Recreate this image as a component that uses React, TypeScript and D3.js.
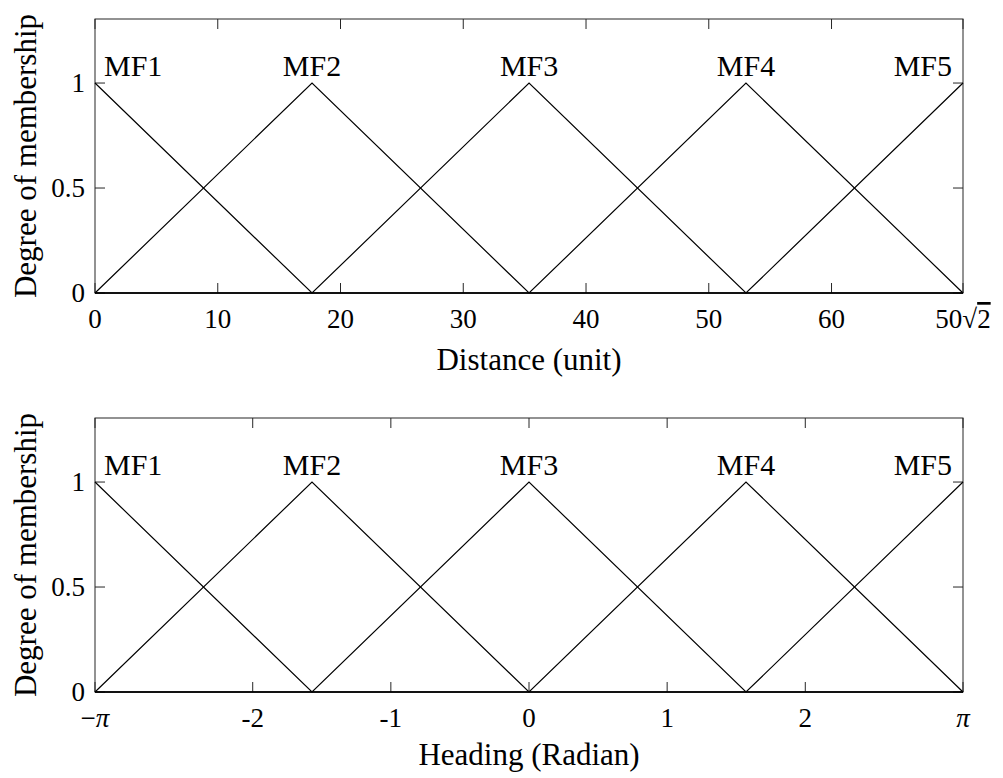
import React from "react";
import * as d3 from "d3";

// membership function names and break points (peaks)
const mfNames = ["MF1", "MF2", "MF3", "MF4", "MF5"];
const distanceBreaks = [0, 17.68, 35.36, 53.03, 70.71];
const headingBreaks = [-3.1416, -1.5708, 0, 1.5708, 3.1416];

// degree of membership at each break point, one row per MF
const mfValues = [
  [1, 0, 0, 0, 0],
  [0, 1, 0, 0, 0],
  [0, 0, 1, 0, 0],
  [0, 0, 0, 1, 0],
  [0, 0, 0, 0, 1],
];

// axis ticks
const yTicks = [0, 0.5, 1];
const yTickLabels = ["0", "0.5", "1"];
const distanceTicks = [0, 10, 20, 30, 40, 50, 60, 70.71];
const distanceTickLabels = ["0", "10", "20", "30", "40", "50", "60", "SQRT"];
const headingTicks = [-3.1416, -2, -1, 0, 1, 2, 3.1416];
const headingTickLabels = ["-PI", "-2", "-1", "0", "1", "2", "PI"];

const W = 1003;
const H = 778;
const FONT = "'Liberation Serif', 'Times New Roman', serif";

type PanelProps = {
  top: number;
  domain: [number, number];
  breaks: number[];
  ticks: number[];
  tickLabels: string[];
  title: string;
  titleOffset: number;
};

// tick label, with the math ones (pi, sqrt) spelled out
function tickText(label: string) {
  if (label === "SQRT")
    return (
      <>
        50{"\u221a"}
        <tspan textDecoration="overline">2</tspan>
      </>
    );
  if (label === "-PI")
    return (
      <>
        {"\u2212"}
        <tspan fontStyle="italic">{"\u03c0"}</tspan>
      </>
    );
  if (label === "PI") return <tspan fontStyle="italic">{"\u03c0"}</tspan>;
  return label;
}

function Panel({ top, domain, breaks, ticks, tickLabels, title, titleOffset }: PanelProps) {
  const left = 95;
  const right = 963;
  const plotH = 274;
  const bottom = top + plotH;
  const x = d3.scaleLinear().domain(domain).range([left, right]);
  const y = d3.scaleLinear().domain([0, 1.305]).range([bottom, top]);
  const line = d3
    .line<[number, number]>()
    .x((d) => x(d[0]))
    .y((d) => y(d[1]));
  const tickLen = 10;

  return (
    <g>
      {/* box */}
      <rect
        x={left}
        y={top}
        width={right - left}
        height={plotH}
        fill="none"
        stroke="#262626"
        strokeWidth={1}
      />
      {/* ticks */}
      {ticks.map((t, i) => (
        <g key={"xt" + i}>
          <line x1={x(t)} x2={x(t)} y1={bottom} y2={bottom - tickLen} stroke="#262626" />
          <line x1={x(t)} x2={x(t)} y1={top} y2={top + tickLen} stroke="#262626" />
        </g>
      ))}
      {yTicks.map((t, i) => (
        <g key={"yt" + i}>
          <line x1={left} x2={left + tickLen} y1={y(t)} y2={y(t)} stroke="#262626" />
          <line x1={right} x2={right - tickLen} y1={y(t)} y2={y(t)} stroke="#262626" />
        </g>
      ))}
      {/* membership functions */}
      {mfValues.map((vals, i) => (
        <path
          key={"mf" + i}
          d={line(breaks.map((b, j) => [b, vals[j]] as [number, number])) || ""}
          fill="none"
          stroke="#000"
          strokeWidth={1.2}
        />
      ))}
      {/* MF labels */}
      {mfNames.map((name, i) => {
        const anchor = i === 0 ? "start" : i === mfNames.length - 1 ? "end" : "middle";
        const dx = i === 0 ? 9 : i === mfNames.length - 1 ? -11 : 0;
        return (
          <text
            key={"lab" + i}
            x={x(breaks[i]) + dx}
            y={y(1) - 7}
            textAnchor={anchor}
            fontSize={30}
            fontFamily={FONT}
            fill="#000"
          >
            {name}
          </text>
        );
      })}
      {/* y tick labels */}
      {yTicks.map((t, i) => (
        <text
          key={"ytl" + i}
          x={left - 10}
          y={y(t)}
          dy="0.35em"
          textAnchor="end"
          fontSize={27}
          fontFamily={FONT}
          fill="#000"
        >
          {yTickLabels[i]}
        </text>
      ))}
      {/* x tick labels */}
      {ticks.map((t, i) => (
        <text
          key={"xtl" + i}
          x={x(t)}
          y={bottom + 35}
          textAnchor="middle"
          fontSize={27}
          fontFamily={FONT}
          fill="#000"
        >
          {tickText(tickLabels[i])}
        </text>
      ))}
      {/* titles */}
      <text
        x={(left + right) / 2}
        y={bottom + titleOffset}
        textAnchor="middle"
        fontSize={31}
        fontFamily={FONT}
        fill="#000"
      >
        {title}
      </text>
      <text
        transform={`translate(36,${(top + bottom) / 2}) rotate(-90)`}
        textAnchor="middle"
        fontSize={31}
        fontFamily={FONT}
        fill="#000"
      >
        Degree of membership
      </text>
    </g>
  );
}

export default function App() {
  return (
    <svg
      width={W}
      height={H}
      style={{ position: "absolute", left: 0, top: 0, background: "#fff" }}
    >
      <rect width={W} height={H} fill="#fff" />
      <Panel
        top={19}
        domain={[0, 70.71]}
        breaks={distanceBreaks}
        ticks={distanceTicks}
        tickLabels={distanceTickLabels}
        title="Distance (unit)"
        titleOffset={77}
      />
      <Panel
        top={418}
        domain={[-3.1416, 3.1416]}
        breaks={headingBreaks}
        ticks={headingTicks}
        tickLabels={headingTickLabels}
        title="Heading (Radian)"
        titleOffset={73}
      />
    </svg>
  );
}
